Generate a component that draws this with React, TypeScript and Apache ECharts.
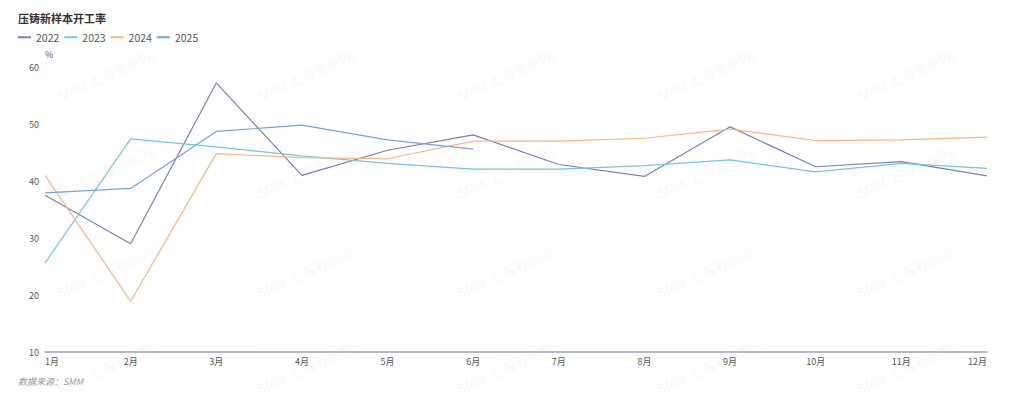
import React, { useEffect, useRef } from "react";
import * as echarts from "echarts";

const months = ["1月", "2月", "3月", "4月", "5月", "6月", "7月", "8月", "9月", "10月", "11月", "12月"];
const years = ["2022", "2023", "2024", "2025"];
const s2022 = [37.5, 29.0, 57.2, 41.0, 45.4, 48.1, 42.9, 40.8, 49.5, 42.5, 43.4, 40.9];
const s2023 = [25.6, 47.4, 46.0, 44.4, 43.1, 42.1, 42.1, 42.7, 43.7, 41.6, 43.1, 42.2];
const s2024 = [41.0, 18.9, 44.8, 44.1, 43.9, 47.0, 47.0, 47.5, 49.1, 47.1, 47.2, 47.7];
const s2025 = [37.9, 38.7, 48.7, 49.8, 47.2, 45.6];
const colors = ["#7680b6", "#72c8d8", "#f6b680", "#72a5dc"];
const title = "压铸新样本开工率";
const source = "数据来源：SMM";
const watermark = "SMM 上海有色网";

export default function App() {
  const ref = useRef<HTMLDivElement>(null);
  useEffect(() => {
    if (!ref.current) return;
    const chart = echarts.init(ref.current, null, { renderer: "svg" });
    const font = "'Noto Sans CJK SC', 'Microsoft YaHei', sans-serif";
    const wm: any[] = [];
    const rowsY = [103, 200, 300, 396];
    const colsX = [60, 260, 460, 660, 860];
    rowsY.forEach((y) =>
      colsX.forEach((x) =>
        wm.push({
          type: "text",
          x,
          y,
          rotation: 0.42,
          silent: true,
          z: -1,
          style: {
            text: watermark,
            fill: "rgba(0,0,0,0.055)",
            font: `14px ${font}`,
            textAlign: "left",
            textVerticalAlign: "bottom",
          },
        })
      )
    );
    const data = [s2022, s2023, s2024, s2025];
    chart.setOption({
      animation: false,
      color: colors,
      textStyle: { fontFamily: font },
      title: {
        text: title,
        left: 13,
        top: 7,
        textStyle: { fontSize: 11, fontWeight: "bold", color: "#333" },
      },
      legend: {
        data: years,
        left: 13,
        top: 27,
        icon: "rect",
        itemWidth: 13,
        itemHeight: 2,
        itemGap: 5,
        textStyle: { fontSize: 10.5, color: "#555" },
      },
      grid: { left: 45, right: 37, top: 67, bottom: 47 },
      xAxis: {
        type: "category",
        data: months,
        boundaryGap: false,
        axisLine: { lineStyle: { color: "#9ea3ae", width: 1.5 } },
        axisTick: { show: false },
        axisLabel: {
          fontSize: 9,
          color: "#555",
          margin: 5,
          interval: 0,
          alignMinLabel: "left",
          alignMaxLabel: "right",
        },
      },
      yAxis: {
        type: "value",
        min: 10,
        max: 60,
        interval: 10,
        name: "%",
        nameGap: 8,
        nameTextStyle: { fontSize: 9, color: "#555", align: "left" },
        axisLine: { show: false },
        axisTick: { show: false },
        splitLine: { show: false },
        axisLabel: { fontSize: 9, color: "#555", margin: 6 },
      },
      series: years.map((y, i) => ({
        name: y,
        type: "line",
        data: data[i],
        showSymbol: false,
        symbol: "none",
        lineStyle: { width: 1.2, color: colors[i] },
        itemStyle: { color: colors[i] },
      })),
      graphic: [
        ...wm,
        {
          type: "text",
          left: 18,
          top: 377,
          style: {
            text: source,
            fill: "#999",
            font: `italic 9px ${font}`,
          },
        },
      ],
    });
    return () => chart.dispose();
  }, []);
  return <div ref={ref} style={{ width: 1024, height: 399, position: "absolute", left: 0, top: 0 }} />;
}
